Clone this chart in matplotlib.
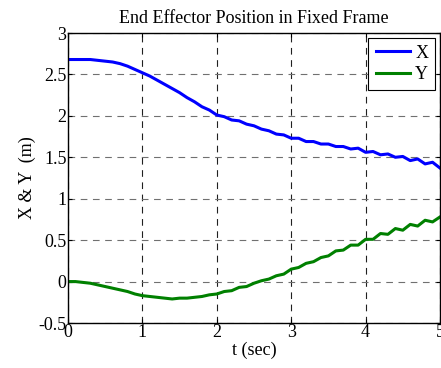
import numpy as np
import matplotlib.pyplot as plt

plt.rcParams['font.family'] = ['Liberation Serif', 'DejaVu Serif']

# time samples (sec)
t = [0.0, 0.1, 0.2, 0.3, 0.4, 0.5, 0.6, 0.7, 0.8, 0.9,
     1.0, 1.1, 1.2, 1.3, 1.4, 1.5, 1.6, 1.7, 1.8, 1.9,
     2.0, 2.1, 2.2, 2.3, 2.4, 2.5, 2.6, 2.7, 2.8, 2.9,
     3.0, 3.1, 3.2, 3.3, 3.4, 3.5, 3.6, 3.7, 3.8, 3.9,
     4.0, 4.1, 4.2, 4.3, 4.4, 4.5, 4.6, 4.7, 4.8, 4.9, 5.0]

# end effector X position (m)
x_pos = [2.68, 2.68, 2.68, 2.68, 2.67, 2.66, 2.65, 2.63, 2.60, 2.56,
         2.52, 2.48, 2.43, 2.38, 2.33, 2.28, 2.22, 2.17, 2.11, 2.07,
         2.01, 1.99, 1.95, 1.94, 1.90, 1.88, 1.84, 1.82, 1.78, 1.77,
         1.73, 1.73, 1.69, 1.69, 1.66, 1.66, 1.63, 1.63, 1.60, 1.61,
         1.56, 1.57, 1.53, 1.54, 1.50, 1.51, 1.46, 1.48, 1.42, 1.44, 1.37]

# end effector Y position (m)
y_pos = [0.00, 0.00, -0.01, -0.02, -0.04, -0.06, -0.08, -0.10, -0.12, -0.15,
         -0.17, -0.18, -0.19, -0.20, -0.21, -0.20, -0.20, -0.19, -0.18, -0.16,
         -0.15, -0.12, -0.11, -0.07, -0.06, -0.02, 0.01, 0.03, 0.07, 0.09,
         0.15, 0.17, 0.22, 0.24, 0.29, 0.31, 0.37, 0.38, 0.44, 0.44,
         0.51, 0.51, 0.58, 0.57, 0.64, 0.62, 0.69, 0.67, 0.74, 0.72, 0.78]

fig = plt.figure(figsize=(4.41, 3.68), dpi=100)
ax = fig.add_axes([68/441, 45/368, 372/441, 290/368])

ax.plot(t, x_pos, color='#0000ff', lw=2.2, label='X')
ax.plot(t, y_pos, color='#008000', lw=2.2, label='Y')

ax.set_xlim(0, 5)
ax.set_ylim(-0.5, 3)
ax.set_xticks([0, 1, 2, 3, 4, 5])
ax.set_yticks([-0.5, 0, 0.5, 1, 1.5, 2, 2.5, 3])
ax.set_yticklabels(['-0.5', '0', '0.5', '1', '1.5', '2', '2.5', '3'])
ax.tick_params(direction='in', top=True, right=True, labelsize=13, length=3,
               pad=1, width=0.8)
ax.xaxis.grid(True, color='#202020', linestyle=(0, (6, 5)), lw=0.8)
ax.yaxis.grid(True, color='#707070', linestyle=(0, (6, 5)), lw=0.8)
for s in ax.spines.values():
    s.set_linewidth(1.0)

ax.set_title('End Effector Position in Fixed Frame', fontsize=13, pad=7)
ax.set_xlabel('t (sec)', fontsize=13, labelpad=0)
ax.set_ylabel('X & Y  (m)', fontsize=13, labelpad=2)

leg = ax.legend(loc='upper right', fontsize=13, fancybox=False, framealpha=1,
                edgecolor='black', borderaxespad=0.25, handlelength=1.9,
                handletextpad=0.3, borderpad=0.4, labelspacing=0.25)
leg.get_frame().set_linewidth(0.8)

fig.savefig('out.png', dpi=100)
